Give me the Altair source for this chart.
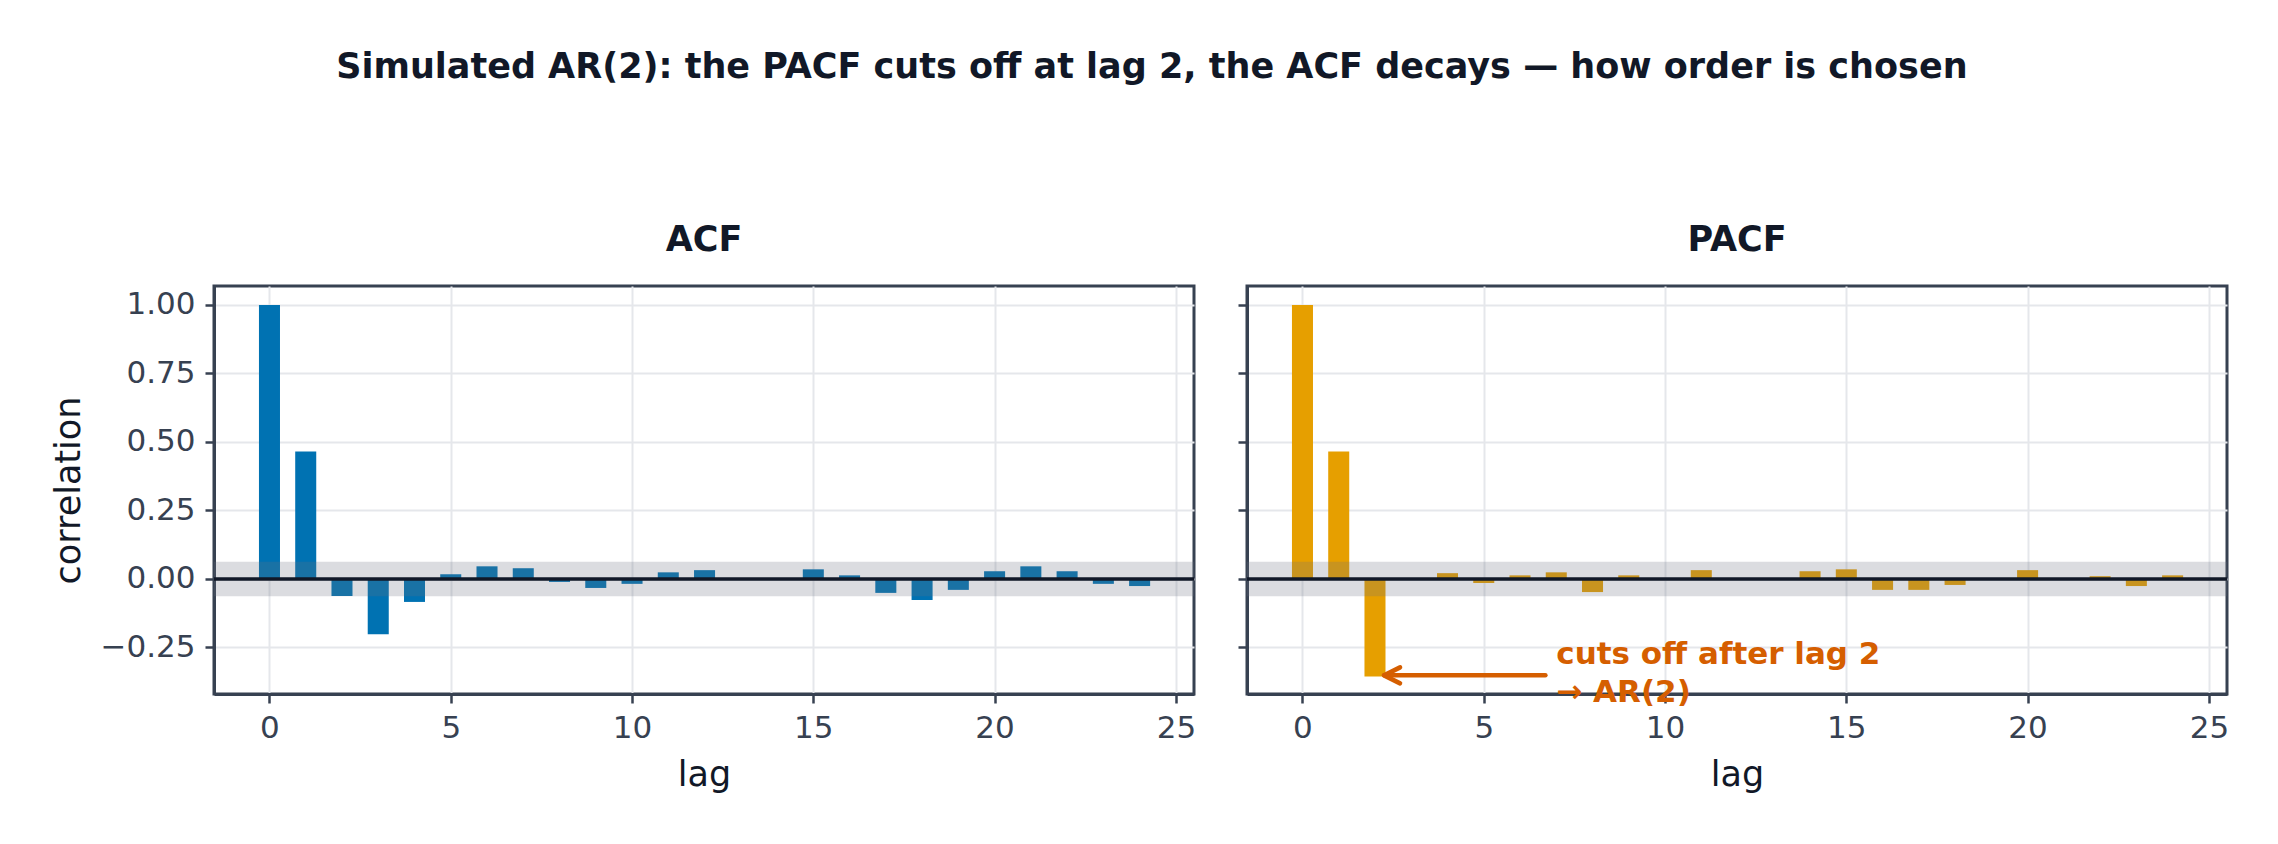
import pandas as pd
import altair as alt

# sample ACF / PACF of a simulated AR(2), lags 0..24
lags = list(range(25))
acf = [1.0, 0.465, -0.062, -0.202, -0.084, 0.017, 0.046, 0.039, -0.011, -0.033,
       -0.018, 0.024, 0.032, 0.001, -0.002, 0.035, 0.013, -0.051, -0.077, -0.040,
       0.028, 0.046, 0.028, -0.018, -0.026]
pacf = [1.0, 0.465, -0.356, 0.002, 0.021, -0.015, 0.013, 0.024, -0.048, 0.013,
        0.001, 0.032, -0.001, 0.001, 0.028, 0.035, -0.040, -0.040, -0.022, 0.001,
        0.032, -0.001, 0.010, -0.026, 0.013]
band = [0.062]  # 1.96 / sqrt(n)

x_ticks = [0, 5, 10, 15, 20, 25]
y_ticks = [-0.25, 0.0, 0.25, 0.5, 0.75, 1.0]

note_text = ["cuts off after lag 2\n→ AR(2)"]
note_x = [7.0]
note_y = [-0.352]
arrow_from = [6.7]
arrow_to = [2.25]

W, H = 980, 408
FONT = "DejaVu Sans"
INK = "#111827"
AXIS_INK = "#374151"
NOTE = "#D55E00"


def make_panel(values, color, title, first):
    df = pd.DataFrame({"lag": lags, "value": values})
    ci = pd.DataFrame({"lo": [-b for b in band], "hi": band, "zero": [0.0]})
    xs = alt.Scale(domain=[-1.53, 25.5], nice=False, zero=False)
    ys = alt.Scale(domain=[-0.42, 1.069], nice=False, zero=False)
    y_axis = dict(values=y_ticks, format=".2f", labels=first)
    y_axis["title"] = "correlation" if first else ""

    bars = (
        alt.Chart(df)
        .transform_calculate(lo="datum.lag - 0.29", hi="datum.lag + 0.29")
        .mark_bar(color=color)
        .encode(
            x=alt.X("lo:Q", scale=xs, axis=alt.Axis(title="lag", values=x_ticks)),
            x2="hi:Q",
            y=alt.Y("value:Q", scale=ys, axis=alt.Axis(**y_axis)),
            y2=alt.datum(0),
        )
    )
    shade = (
        alt.Chart(ci)
        .mark_rect(color="#6b7280", opacity=0.24, stroke="#6b7280", strokeWidth=2, strokeOpacity=0.24)
        .encode(x=alt.value(0), x2=alt.value(W), y="lo:Q", y2="hi:Q")
    )
    zero = alt.Chart(ci).mark_rule(color=INK, strokeWidth=3.5).encode(y="zero:Q")
    layers = [bars, shade, zero]

    if not first:
        note = pd.DataFrame({"text": note_text, "x": note_x, "y": note_y,
                             "x0": arrow_from, "x1": arrow_to})
        arrow = alt.Chart(note).mark_rule(color=NOTE, strokeWidth=4.5, strokeCap="round").encode(
            x="x0:Q", x2="x1:Q", y="y:Q"
        )
        head = alt.Chart(note).mark_point(
            shape="M2,-1L0,0L2,1", size=256, filled=False, color=NOTE,
            strokeWidth=4.5, strokeCap="round", strokeJoin="round", opacity=1,
        ).encode(x="x1:Q", y="y:Q")
        label = alt.Chart(note).mark_text(
            align="left", baseline="middle", font=FONT, fontSize=31, fontWeight="bold",
            color=NOTE, lineBreak="\n", lineHeight=38, dy=-20,
        ).encode(x="x:Q", y="y:Q", text="text:N")
        layers += [arrow, head, label]

    return alt.layer(*layers).properties(
        width=W,
        height=H,
        title=alt.TitleParams(title, fontSize=35, fontWeight="bold", color=INK, font=FONT, offset=28),
    )


chart = (
    alt.hconcat(
        make_panel(acf, "#0072B2", "ACF", True),
        make_panel(pacf, "#E69F00", "PACF", False),
        spacing=37,
    )
    .properties(
        title=alt.TitleParams(
            "Simulated AR(2): the PACF cuts off at lag 2, the ACF decays — how order is chosen",
            fontSize=35, fontWeight="bold", color=INK, font=FONT, anchor="middle",
            offset=137, dx=12,
        ),
        padding={"left": 41, "top": 41, "right": 10, "bottom": 10},
    )
    .configure_view(stroke=AXIS_INK, strokeWidth=3)
    .configure_axis(
        labelFont=FONT, labelFontSize=31, labelColor=AXIS_INK, labelPadding=10,
        titleFont=FONT, titleFontSize=35, titleColor=INK, titleFontWeight="normal", titlePadding=14,
        tickColor=AXIS_INK, tickWidth=2.5, tickSize=9,
        domainColor=AXIS_INK, domainWidth=3,
        gridColor="#e5e7eb", gridWidth=2,
    )
)

chart.save("out.html", embed_options={"renderer": "svg", "actions": False})
